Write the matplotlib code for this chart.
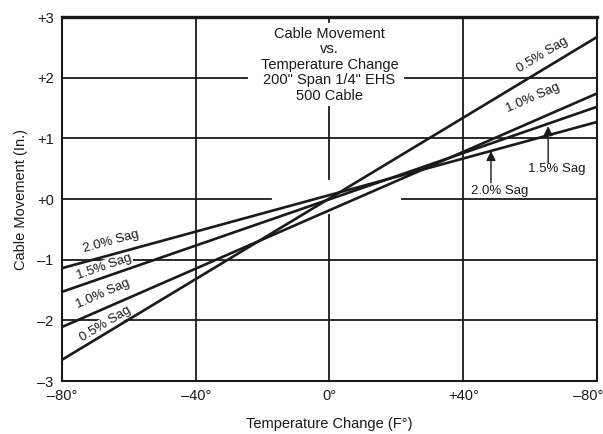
import numpy as np
import matplotlib
matplotlib.use('Agg')
import matplotlib.pyplot as plt
import matplotlib.transforms as mtransforms

plt.rcParams['font.family'] = ['Liberation Sans', 'DejaVu Sans']

INK = '#1a1a1a'

# temperature change end points (F) and cable movement (in.) at each end
temps = [-80, 80]
sag_names = ['0.5% Sag', '1.0% Sag', '1.5% Sag', '2.0% Sag']
move_05 = [-2.65, 2.67]
move_10 = [-2.11, 1.74]
move_15 = [-1.53, 1.52]
move_20 = [-1.14, 1.27]
moves = [move_05, move_10, move_15, move_20]

x_ticks = [-80, -40, 0, 40, 80]
x_labels = ['\u201380\u00b0', '\u201340\u00b0', '0\u00b0', '+40\u00b0', '\u201380\u00b0']
y_ticks = [-3, -2, -1, 0, 1, 2, 3]
y_labels = ['\u20133', '\u20132', '\u20131', '+0', '+1', '+2', '+3']

# label anchor (temp, movement) for each sag line on the left side
left_lbl_x = [-67.1, -67.7, -67.4, -65.3]
left_lbl_y = [-2.06, -1.57, -1.12, -0.71]
# rotated labels on the right for 0.5% and 1.0%
right_lbl_x = [63.6, 60.9]
right_lbl_y = [2.38, 1.67]


def slope(m):
    return (m[1] - m[0]) / (temps[1] - temps[0])


fig = plt.figure(figsize=(6.03, 4.34), dpi=100)
ax = fig.add_axes([0.1028, 0.1221, 0.8872, 0.8387])
ax.set_xlim(-80, 80)
ax.set_ylim(-3, 3)

# grid drawn by hand so gaps around the title and crossing can be left open
gkw = dict(color=INK, linewidth=1.3, zorder=1)
for yv in (-2, -1, 1):
    ax.plot([-80, 80], [yv, yv], **gkw)
ax.plot([-80, -24.7], [2, 2], **gkw)
ax.plot([22.6, 80], [2, 2], **gkw)
ax.plot([-80, -17.5], [0, 0], **gkw)
ax.plot([21.7, 80], [0, 0], **gkw)
for xv in (-40, 40):
    ax.plot([xv, xv], [-3, 3], **gkw)
ax.plot([0, 0], [-3, -0.26], **gkw)
ax.plot([0, 0], [0.33, 1.52], **gkw)
ax.plot([0, 0], [2.92, 3], **gkw)

for m in moves:
    ax.plot(temps, m, color=INK, linewidth=1.9, zorder=4,
            solid_capstyle='butt')

lbl_kw = dict(fontsize=9.5, color=INK, ha='center', va='center',
              rotation_mode='anchor', transform_rotates_text=True,
              bbox=dict(facecolor='white', edgecolor='none', pad=0.6),
              zorder=3)
for name, m, lx, ly in zip(sag_names, moves, left_lbl_x, left_lbl_y):
    ang = np.degrees(np.arctan(slope(m)))
    ax.text(lx, ly, name, rotation=ang, **lbl_kw)
for name, m, lx, ly in zip(sag_names[:2], moves[:2], right_lbl_x, right_lbl_y):
    ang = np.degrees(np.arctan(slope(m)))
    ax.text(lx, ly, name, rotation=ang, **lbl_kw)

# pointer labels for 1.5% and 2.0% on the right
akw = dict(arrowstyle='-|>', color=INK, linewidth=1.0,
           mutation_scale=14, shrinkA=0, shrinkB=0)
ax.annotate('', xy=(65.4, 1.2), xytext=(65.4, 0.6), arrowprops=akw,
            zorder=5)
ax.text(68.0, 0.49, '1.5% Sag', fontsize=9.5, color=INK,
        ha='center', va='center', zorder=5)
ax.annotate('', xy=(48.3, 0.79), xytext=(48.3, 0.27), arrowprops=akw,
            zorder=5)
ax.text(51.0, 0.14, '2.0% Sag', fontsize=9.5, color=INK,
        ha='center', va='center', zorder=5)

ax.text(0, 2.215, 'Cable Movement\nvs.\nTemperature Change\n'
        '200" Span 1/4" EHS\n500 Cable',
        fontsize=10.5, color=INK, ha='center', va='center',
        linespacing=1.14, zorder=5)

ax.set_xticks(x_ticks)
ax.set_xticklabels(x_labels, fontsize=10.5, color=INK)
ax.set_yticks(y_ticks)
ax.set_yticklabels(y_labels, fontsize=10.5, color=INK)
ax.tick_params(length=0, pad=6)
# last x label sits a little left of its tick so it stays on the page
last = ax.get_xticklabels()[-1]
last.set_transform(last.get_transform() + mtransforms.ScaledTranslation(
    -9 / 100, 0, fig.dpi_scale_trans))
ax.set_xlabel('Temperature Change (F\u00b0)', fontsize=10.5, color=INK,
              labelpad=10)
ax.set_ylabel('Cable Movement (In.)', fontsize=10.5, color=INK, labelpad=6)

for s in ax.spines.values():
    s.set_color(INK)
    s.set_linewidth(1.5)
ax.spines['top'].set_linewidth(2.4)

fig.savefig('out.png', dpi=100)
